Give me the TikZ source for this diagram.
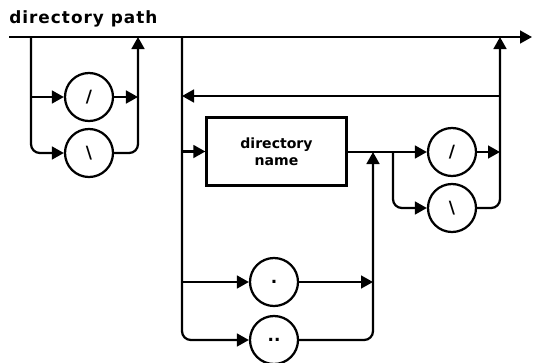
\documentclass[tikz,border=0pt]{standalone}
\usepackage{fontspec}
\setmainfont{DejaVu Sans}
\usepackage{tikz}
\usetikzlibrary{arrows.meta, positioning}

\tikzset{
  term/.style={circle, draw, line width=1.6pt, minimum size=1.2cm, inner sep=0pt, font=\large\bfseries},
  nonterm/.style={rectangle, draw, line width=1.6pt, minimum width=3.5cm, minimum height=1.7cm, align=center, font=\normalsize\bfseries},
  rail/.style={line width=1.6pt},
  flow/.style={rail, -{Triangle[length=3mm, width=3.2mm]}},
  roundturn/.style={rounded corners=0.22cm}
}

\begin{document}
\begin{tikzpicture}[x=0.025cm, y=-0.025cm]
  \useasboundingbox (0,0) rectangle (533,362);

  % title and main line
  \node[font=\large\bfseries\addfontfeatures{LetterSpace=6}, anchor=west, inner sep=0pt] (title) at (9,19) {directory path};
  \coordinate (start) at (9,37);
  \coordinate (stop)  at (532,37);
  \draw[flow] (start) -- (stop);

  % leading separator
  \node[term] (lslash) at (89,97)  {/};
  \node[term] (lback)  at (89,153) {\textbackslash};
  \coordinate (lin)   at (31,37);
  \coordinate (lsplit) at (31,97);
  \coordinate (lmerge) at (138,97);
  \coordinate (lout)  at (138,37);
  \draw[flow, roundturn] (lin) |- (lback);
  \draw[flow] (lsplit) -- (lslash);
  \draw[flow] (lslash) -- (lmerge);
  \draw[flow, roundturn] (lback) -| (lout);

  % repeated directory names
  \node[nonterm] (dname) at (276.5,151.5) {directory\\name};
  \node[term] (dot)  at (274,282) {.};
  \node[term] (ddot) at (274,340) {..};
  \node[term] (rslash) at (452,152) {/};
  \node[term] (rback)  at (452,208) {\textbackslash};

  \coordinate (min)    at (182,37);
  \coordinate (loopin) at (182,96);
  \coordinate (mname)  at (182,151.5);
  \coordinate (mdot)   at (182,282);
  \coordinate (jdot)   at (373,282);
  \coordinate (jname)  at (373,152);
  \coordinate (rsplit) at (393,152);
  \coordinate (rmerge) at (500,152);
  \coordinate (loopout) at (500,96);
  \coordinate (rout)   at (500,37);

  \draw[flow, roundturn] (min) |- (ddot);
  \draw[flow] (loopout) -- (loopin);
  \draw[flow] (mname) -- (dname);
  \draw[flow] (mdot) -- (dot);
  \draw[flow] (dot) -- (jdot);
  \draw[flow, roundturn] (ddot) -| (jname);
  \draw[flow] (dname.east |- rslash) -- (rslash);
  \draw[flow, roundturn] (rsplit) |- (rback);
  \draw[flow] (rslash) -- (rmerge);
  \draw[flow, roundturn] (rback) -| (rout);

\end{tikzpicture}
\end{document}
